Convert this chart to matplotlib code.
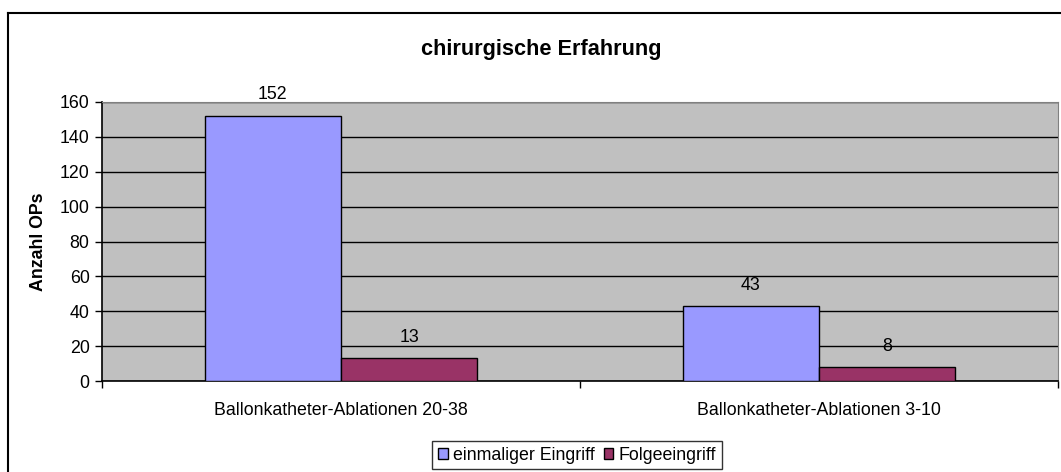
import matplotlib.pyplot as plt
import numpy as np
from matplotlib.lines import Line2D

plt.rcParams['font.family'] = ['Liberation Sans', 'DejaVu Sans']

# Daten
categories = ["Ballonkatheter-Ablationen 20-38", "Ballonkatheter-Ablationen 3-10"]
einmalig = [152, 43]
folge = [13, 8]
series_names = ["einmaliger Eingriff", "Folgeeingriff"]
colors = ["#9999FF", "#993366"]
yticks = [0, 20, 40, 60, 80, 100, 120, 140, 160]

fs = 12.8
W, H = 1061, 472
fig = plt.figure(figsize=(W / 100, H / 100), dpi=100)

# Rahmen um das Diagramm (nur links und oben sichtbar)
fig.add_artist(Line2D([8 / W, 8 / W], [0, 1 - 13 / H], transform=fig.transFigure, color="black", lw=1.5))
fig.add_artist(Line2D([8 / W, 1], [1 - 13 / H, 1 - 13 / H], transform=fig.transFigure, color="black", lw=1.5))

ax = fig.add_axes([102 / W, 91 / H, 956 / W, 279 / H])
ax.set_facecolor("#C0C0C0")

x = np.arange(len(categories))
w = 0.285
b1 = ax.bar(x - w / 2, einmalig, w, color=colors[0], edgecolor="black", linewidth=1, label=series_names[0], zorder=3)
b2 = ax.bar(x + w / 2, folge, w, color=colors[1], edgecolor="black", linewidth=1, label=series_names[1], zorder=3)

for bars in (b1, b2):
    for r in bars:
        ax.annotate(f"{int(r.get_height())}", (r.get_x() + r.get_width() / 2, r.get_height()),
                    xytext=(0, 9.0), textcoords="offset points", ha="center", va="bottom", fontsize=fs)

ax.set_xlim(-0.5, 1.5)
ax.set_ylim(0, 160)
ax.set_yticks(yticks)
ax.yaxis.grid(True, color="black", linewidth=1, zorder=1)
ax.set_axisbelow(True)
ax.tick_params(axis="y", labelsize=fs, length=5, width=1, direction="out", pad=4)

ax.set_xticks([-0.5, 0.5, 1.5])
ax.set_xticklabels([])
ax.set_xticks(x, minor=True)
ax.set_xticklabels(categories, minor=True, fontsize=fs)
ax.tick_params(axis="x", which="major", length=5, width=1, direction="out")
ax.tick_params(axis="x", which="minor", length=0, pad=15)

for s in ("top", "right"):
    ax.spines[s].set_color("#808080")
for s in ("left", "bottom"):
    ax.spines[s].set_color("black")
    ax.spines[s].set_linewidth(1.2)

ax.set_ylabel("Anzahl OPs", fontsize=fs, fontweight="bold", labelpad=9)

fig.text(541 / W, 1 - 50 / H, "chirurgische Erfahrung", ha="center", va="center", fontsize=15.7, fontweight="bold")

leg = fig.legend(loc="center", bbox_to_anchor=(577 / W, 1 - 455 / H), ncol=2, fontsize=fs,
                 frameon=True, fancybox=False, edgecolor="black", handlelength=0.55, handleheight=0.55,
                 handletextpad=0.3, columnspacing=0.5, borderpad=0.3, borderaxespad=0)
leg.get_frame().set_linewidth(1)

fig.savefig("out.png", dpi=100)
